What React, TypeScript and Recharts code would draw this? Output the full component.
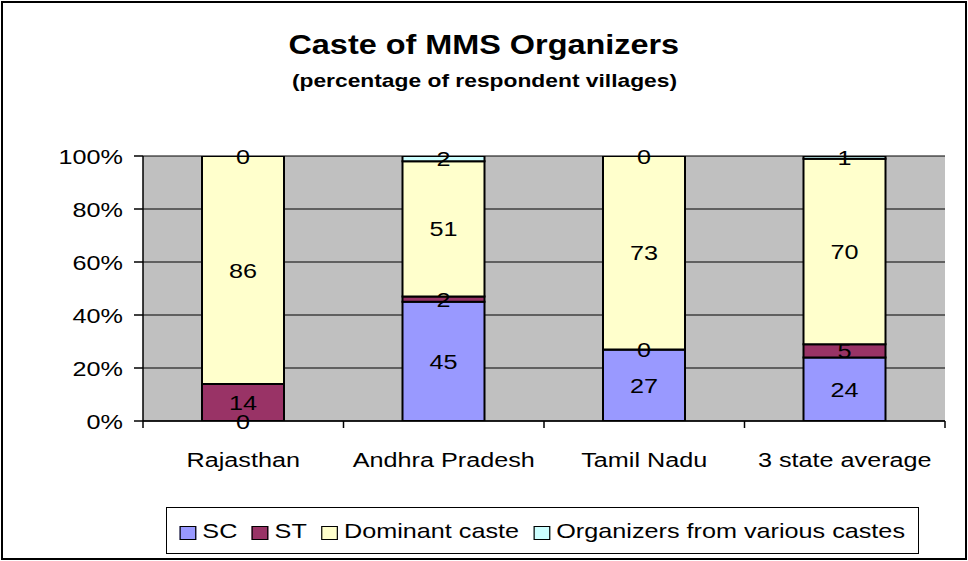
import React from 'react';
import { BarChart, Bar, XAxis, YAxis, CartesianGrid, LabelList } from 'recharts';

const categories = ['Rajasthan', 'Andhra Pradesh', 'Tamil Nadu', '3 state average'];
const sc = [0, 45, 27, 24];
const st = [14, 2, 0, 5];
const dominant = [86, 51, 73, 70];
const various = [0, 2, 0, 1];
const yTicks = [0, 20, 40, 60, 80, 100];

const series = [
  { key: 'sc', name: 'SC', color: '#9999FF' },
  { key: 'st', name: 'ST', color: '#993366' },
  { key: 'dominant', name: 'Dominant caste', color: '#FFFFCC' },
  { key: 'various', name: 'Organizers from various castes', color: '#CCFFFF' },
];

const data = categories.map((c, i) => ({
  name: c,
  sc: sc[i],
  st: st[i],
  dominant: dominant[i],
  various: various[i],
}));

const W = 968;
const H = 561;
const PLOT_LEFT = 143;
const PLOT_RIGHT = 23;
const BAND = (W - PLOT_LEFT - PLOT_RIGHT) / categories.length;
const FONT = '"Liberation Sans", Arial, sans-serif';
const STRETCH = 1.2;

const CategoryTick = (props: any) => {
  const { x, y, payload, index } = props;
  const half = BAND / 2;
  return (
    <g>
      <line x1={x - half} y1={y} x2={x - half} y2={y + 7} stroke="#000" strokeWidth={1.5} />
      {index === categories.length - 1 && (
        <line x1={x + half} y1={y} x2={x + half} y2={y + 7} stroke="#000" strokeWidth={1.5} />
      )}
      <text
        transform={`translate(${x},${y + 46}) scale(${STRETCH},1)`}
        textAnchor="middle"
        fontSize={21}
        fontFamily={FONT}
        fill="#000"
      >
        {payload.value}
      </text>
    </g>
  );
};

const PercentTick = (props: any) => {
  const { x, y, payload } = props;
  return (
    <text
      transform={`translate(${x},${y}) scale(${STRETCH},1)`}
      textAnchor="end"
      dy="0.36em"
      fontSize={21}
      fontFamily={FONT}
      fill="#000"
    >
      {payload.value}%
    </text>
  );
};

const SegmentLabel = (props: any) => {
  const { x, y, width, height, value } = props;
  const cx = Number(x) + Number(width) / 2;
  const cy = Number(y) + Number(height) / 2;
  return (
    <text
      transform={`translate(${cx},${cy}) scale(${STRETCH},1)`}
      textAnchor="middle"
      dy="0.36em"
      fontSize={21}
      fontFamily={FONT}
      fill="#000"
    >
      {value}
    </text>
  );
};

export default function App() {
  return (
    <div style={{ position: 'absolute', left: 0, top: 0, width: W, height: H, background: '#fff', fontFamily: FONT }}>
      <div
        style={{
          position: 'absolute',
          left: 1,
          top: 1,
          width: 962,
          height: 555,
          border: '2px solid #000',
        }}
      />
      <div style={{ position: 'absolute', left: 0, top: 29, width: W, textAlign: 'center' }}>
        <div style={{ display: 'inline-block', transform: `scaleX(${STRETCH})`, fontWeight: 'bold', fontSize: 27, lineHeight: '32px' }}>
          Caste of MMS Organizers
        </div>
      </div>
      <div style={{ position: 'absolute', left: 0, top: 69, width: W, textAlign: 'center' }}>
        <div style={{ display: 'inline-block', transform: `scaleX(${STRETCH})`, fontWeight: 'bold', fontSize: 19, lineHeight: '24px' }}>
          (percentage of respondent villages)
        </div>
      </div>

      <div style={{ position: 'absolute', left: 0, top: 0 }}>
        <BarChart
          width={W}
          height={H}
          data={data}
          margin={{ top: 156, right: PLOT_RIGHT, left: PLOT_LEFT - 80, bottom: 100 }}
          barSize={82}
        >
          <CartesianGrid vertical={false} stroke="#000" fill="#C0C0C0" fillOpacity={1} />
          <XAxis
            dataKey="name"
            height={40}
            tickSize={0}
            tickMargin={0}
            axisLine={{ stroke: '#000', strokeWidth: 1.5 }}
            tickLine={false}
            tick={<CategoryTick />}
            interval={0}
          />
          <YAxis
            width={80}
            domain={[0, 100]}
            ticks={yTicks}
            tickSize={9}
            tickMargin={11}
            axisLine={{ stroke: '#000', strokeWidth: 1.5 }}
            tickLine={{ stroke: '#000', strokeWidth: 1.5 }}
            tick={<PercentTick />}
            allowDataOverflow
          />
          {series.map((s) => (
            <Bar
              key={s.key}
              dataKey={s.key}
              name={s.name}
              stackId="a"
              fill={s.color}
              stroke="#000"
              strokeWidth={2}
              minPointSize={0.01}
              isAnimationActive={false}
            >
              <LabelList dataKey={s.key} content={<SegmentLabel />} />
            </Bar>
          ))}
        </BarChart>
      </div>

      <div
        style={{
          position: 'absolute',
          left: 166,
          top: 507,
          width: 751,
          height: 45,
          border: '1px solid #000',
          display: 'flex',
          alignItems: 'center',
          justifyContent: 'center',
        }}
      >
        <div style={{ display: 'flex', alignItems: 'center', transform: `scaleX(${STRETCH})`, fontSize: 21 }}>
          {series.map((s, i) => (
            <div key={s.key} style={{ display: 'flex', alignItems: 'center', marginLeft: i === 0 ? 0 : 12 }}>
              <span
                style={{
                  display: 'inline-block',
                  width: 12,
                  height: 12,
                  background: s.color,
                  border: '1px solid #000',
                  marginRight: 5,
                  marginTop: 5,
                }}
              />
              <span>{s.name}</span>
            </div>
          ))}
        </div>
      </div>
    </div>
  );
}
